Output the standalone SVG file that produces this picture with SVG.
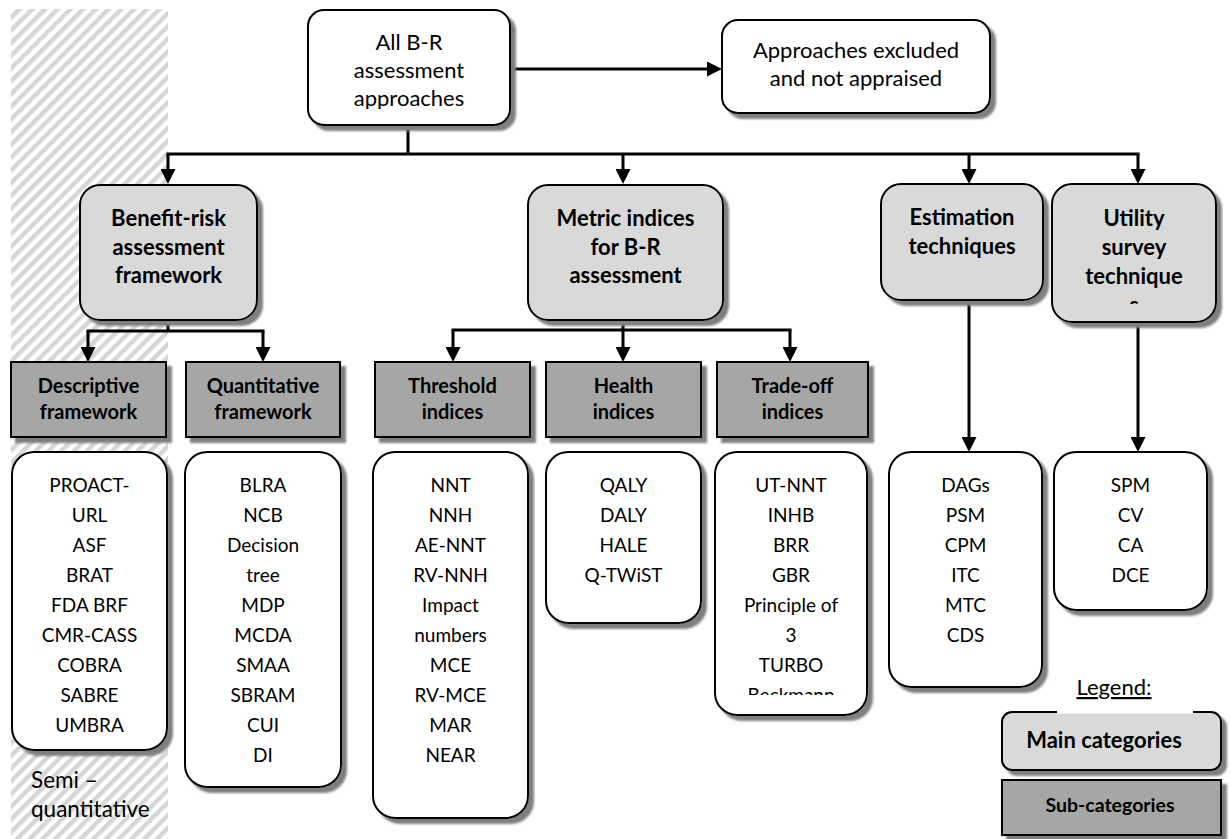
<svg xmlns="http://www.w3.org/2000/svg" width="1231" height="839" viewBox="0 0 1231 839">
<style>
text{font-family:"Lato","Carlito","Liberation Sans",sans-serif;fill:#000;text-anchor:middle}
.reg{font-size:22px}
.lst{font-size:19px}
.mb{font-size:22px;font-weight:bold}
.sb{font-size:20px;font-weight:bold}
.white{fill:#fff;stroke:#000;stroke-width:2;filter:url(#sh)}
.main{fill:#d9d9d9;stroke:#000;stroke-width:2;filter:url(#sh)}
.sub{fill:#a6a6a6;stroke:#000;stroke-width:2;filter:url(#sh)}
.con{fill:none;stroke:#000;stroke-width:3}
.arr{marker-end:url(#ah)}
</style>
<defs>
<pattern id="hatch" width="9" height="9" patternUnits="userSpaceOnUse" patternTransform="rotate(45)">
<rect width="4.5" height="9" fill="#d6d6d6"/>
</pattern>
<filter id="sh" x="-10%" y="-10%" width="130%" height="130%">
<feDropShadow dx="5" dy="5" stdDeviation="1" flood-color="#7f7f7f" flood-opacity="1"/>
</filter>
<marker id="ah" markerUnits="userSpaceOnUse" markerWidth="15" markerHeight="15" refX="11" refY="7.5" orient="auto" viewBox="0 0 15 15">
<path d="M0,0 L15,7.5 L0,15 z" fill="#000"/>
</marker>
<clipPath id="clipTop"><rect x="308" y="10" width="202" height="99"/></clipPath>
<clipPath id="clipUtil"><rect x="1052" y="184" width="164" height="120"/></clipPath>
<clipPath id="clipTrade"><rect x="715" y="452" width="152" height="243"/></clipPath>
</defs>
<rect width="1231" height="839" fill="#fff"/>
<rect id="hatch-area" x="11" y="9" width="157" height="830" fill="url(#hatch)"/>

<g id="connectors">
<path class="con arr" d="M510,69 H718"/>
<path class="con" d="M408,125 V154 M166.5,154 H1139.5"/>
<path class="con arr" d="M168,154 V180"/>
<path class="con arr" d="M623,154 V180"/>
<path class="con arr" d="M969,154 V180"/>
<path class="con arr" d="M1138,154 V180"/>
<path class="con" d="M168,320 V331 M86.5,331 H264.5"/>
<path class="con arr" d="M88,331 V358"/>
<path class="con arr" d="M263,331 V358"/>
<path class="con" d="M623,320 V330 M451.5,330 H791.5"/>
<path class="con arr" d="M453,330 V358"/>
<path class="con arr" d="M623,330 V358"/>
<path class="con arr" d="M790,330 V358"/>
<path class="con arr" d="M969,300 V448"/>
<path class="con arr" d="M1138,322 V448"/>
</g>

<g id="node-all">
<rect class="white" x="308" y="10" width="202" height="115" rx="16"/>
<g clip-path="url(#clipTop)">
<text class="reg" x="409" y="50">All B-R</text>
<text class="reg" x="409" y="78">assessment</text>
<text class="reg" x="409" y="106">approaches</text>
</g>
</g>
<g id="node-excluded">
<rect class="white" x="722" y="20" width="268" height="93" rx="16"/>
<text class="reg" x="856" y="58">Approaches excluded</text>
<text class="reg" x="856" y="86">and not appraised</text>
</g>

<g id="node-brframework">
<rect class="main" x="80" y="185" width="177" height="135" rx="20"/>
<text class="mb" x="168.5" y="226">Benefit-risk</text>
<text class="mb" x="168.5" y="254.5">assessment</text>
<text class="mb" x="168.5" y="283">framework</text>
</g>
<g id="node-metric">
<rect class="main" x="528" y="185" width="195" height="135" rx="20"/>
<text class="mb" x="625.5" y="226">Metric indices</text>
<text class="mb" x="625.5" y="254.5">for B-R</text>
<text class="mb" x="625.5" y="283">assessment</text>
</g>
<g id="node-estimation">
<rect class="main" x="881" y="184" width="162" height="116" rx="20"/>
<text class="mb" x="962" y="225">Estimation</text>
<text class="mb" x="962" y="254">techniques</text>
</g>
<g id="node-utility">
<rect class="main" x="1052" y="184" width="164" height="138" rx="20"/>
<g clip-path="url(#clipUtil)">
<text class="mb" x="1134" y="226">Utility</text>
<text class="mb" x="1134" y="255">survey</text>
<text class="mb" x="1134" y="284">technique</text>
<text class="mb" x="1134" y="313">s</text>
</g>
</g>

<g id="node-descriptive">
<rect class="sub" x="11" y="362" width="155" height="75"/>
<text class="sb" x="88.5" y="393">Descriptive</text>
<text class="sb" x="88.5" y="419">framework</text>
</g>
<g id="node-quantitative">
<rect class="sub" x="186" y="362" width="154" height="75"/>
<text class="sb" x="263" y="393">Quantitative</text>
<text class="sb" x="263" y="419">framework</text>
</g>
<g id="node-threshold">
<rect class="sub" x="375" y="362" width="155" height="75"/>
<text class="sb" x="452.5" y="393">Threshold</text>
<text class="sb" x="452.5" y="419">indices</text>
</g>
<g id="node-health">
<rect class="sub" x="546" y="362" width="155" height="75"/>
<text class="sb" x="623.5" y="393">Health</text>
<text class="sb" x="623.5" y="419">indices</text>
</g>
<g id="node-tradeoff">
<rect class="sub" x="717" y="362" width="151" height="75"/>
<text class="sb" x="792.5" y="393">Trade-off</text>
<text class="sb" x="792.5" y="419">indices</text>
</g>

<g id="list-descriptive">
<rect class="white" x="12" y="452" width="155" height="298" rx="22"/>
<text class="lst" x="89.5" y="492">PROACT-</text>
<text class="lst" x="89.5" y="522">URL</text>
<text class="lst" x="89.5" y="552">ASF</text>
<text class="lst" x="89.5" y="582">BRAT</text>
<text class="lst" x="89.5" y="612">FDA BRF</text>
<text class="lst" x="89.5" y="642">CMR-CASS</text>
<text class="lst" x="89.5" y="672">COBRA</text>
<text class="lst" x="89.5" y="702">SABRE</text>
<text class="lst" x="89.5" y="732">UMBRA</text>
</g>
<g id="list-quantitative">
<rect class="white" x="185" y="452" width="156" height="335" rx="22"/>
<text class="lst" x="263" y="492">BLRA</text>
<text class="lst" x="263" y="522">NCB</text>
<text class="lst" x="263" y="552">Decision</text>
<text class="lst" x="263" y="582">tree</text>
<text class="lst" x="263" y="612">MDP</text>
<text class="lst" x="263" y="642">MCDA</text>
<text class="lst" x="263" y="672">SMAA</text>
<text class="lst" x="263" y="702">SBRAM</text>
<text class="lst" x="263" y="732">CUI</text>
<text class="lst" x="263" y="762">DI</text>
</g>
<g id="list-threshold">
<rect class="white" x="373" y="452" width="155" height="366" rx="22"/>
<text class="lst" x="450.5" y="492">NNT</text>
<text class="lst" x="450.5" y="522">NNH</text>
<text class="lst" x="450.5" y="552">AE-NNT</text>
<text class="lst" x="450.5" y="582">RV-NNH</text>
<text class="lst" x="450.5" y="612">Impact</text>
<text class="lst" x="450.5" y="642">numbers</text>
<text class="lst" x="450.5" y="672">MCE</text>
<text class="lst" x="450.5" y="702">RV-MCE</text>
<text class="lst" x="450.5" y="732">MAR</text>
<text class="lst" x="450.5" y="762">NEAR</text>
</g>
<g id="list-health">
<rect class="white" x="546" y="452" width="155" height="171" rx="22"/>
<text class="lst" x="623.5" y="492">QALY</text>
<text class="lst" x="623.5" y="522">DALY</text>
<text class="lst" x="623.5" y="552">HALE</text>
<text class="lst" x="623.5" y="582">Q-TWiST</text>
</g>
<g id="list-tradeoff">
<rect class="white" x="715" y="452" width="152" height="263" rx="22"/>
<g clip-path="url(#clipTrade)">
<text class="lst" x="791" y="492">UT-NNT</text>
<text class="lst" x="791" y="522">INHB</text>
<text class="lst" x="791" y="552">BRR</text>
<text class="lst" x="791" y="582">GBR</text>
<text class="lst" x="791" y="612">Principle of</text>
<text class="lst" x="791" y="642">3</text>
<text class="lst" x="791" y="672">TURBO</text>
<text class="lst" x="791" y="702">Beckmann</text>
</g>
</g>
<g id="list-estimation">
<rect class="white" x="889" y="452" width="153" height="235" rx="22"/>
<text class="lst" x="965.5" y="492">DAGs</text>
<text class="lst" x="965.5" y="522">PSM</text>
<text class="lst" x="965.5" y="552">CPM</text>
<text class="lst" x="965.5" y="582">ITC</text>
<text class="lst" x="965.5" y="612">MTC</text>
<text class="lst" x="965.5" y="642">CDS</text>
</g>
<g id="list-utility">
<rect class="white" x="1054" y="452" width="153" height="158" rx="22"/>
<text class="lst" x="1130.5" y="492">SPM</text>
<text class="lst" x="1130.5" y="522">CV</text>
<text class="lst" x="1130.5" y="552">CA</text>
<text class="lst" x="1130.5" y="582">DCE</text>
</g>

<g id="semi-label">
<text x="31" y="788" style="text-anchor:start;font-size:22.5px">Semi –</text>
<text x="31" y="817" style="text-anchor:start;font-size:22.5px">quantitative</text>
</g>

<g id="legend">
<rect class="main" x="1002" y="712" width="219" height="58" rx="10"/>
<rect x="1057" y="672" width="136" height="41.5" fill="#fff"/>
<text class="reg" x="1114" y="695" style="text-decoration:underline">Legend:</text>
<text class="mb" x="1104" y="748">Main categories</text>
<rect class="sub" x="1002" y="780" width="219" height="55"/>
<text x="1110" y="812" style="font-size:19.5px;font-weight:bold">Sub-categories</text>
</g>
</svg>
